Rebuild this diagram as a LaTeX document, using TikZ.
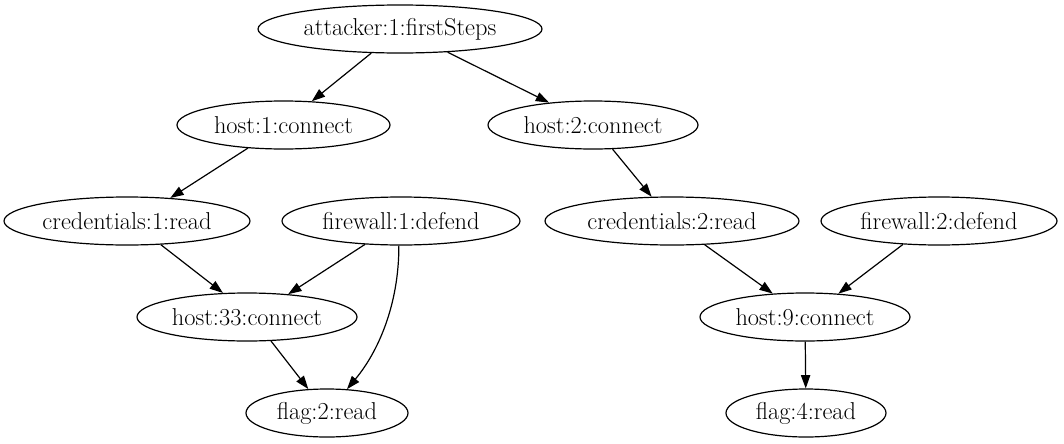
\documentclass[tikz,border=0pt]{standalone}
\usetikzlibrary{arrows.meta,shapes.geometric}
\begin{document}
\begin{tikzpicture}[x=0.75pt,y=-0.75pt,
  gnode/.style={draw, ellipse, line width=0.9pt, inner sep=0pt,
    minimum height=36pt, font=\fontsize{18.3}{21}\selectfont},
  edge/.style={line width=0.9pt, -{Triangle[length=10pt,width=7pt]}}]
\useasboundingbox (0,0) rectangle (1064,443);
% nodes (minimum width = 2 * horizontal radius)
\node[gnode, minimum width=213pt] (att) at (400,29) {attacker:1:firstSteps};
\node[gnode, minimum width=159.75pt] (h1) at (283.5,125) {host:1:connect};
\node[gnode, minimum width=157.5pt] (h2) at (593,125) {host:2:connect};
\node[gnode, minimum width=184.5pt] (c1) at (127,221) {credentials:1:read};
\node[gnode, minimum width=178.5pt] (fw1) at (401,221) {firewall:1:defend};
\node[gnode, minimum width=190.5pt] (c2) at (672,221) {credentials:2:read};
\node[gnode, minimum width=177pt] (fw2) at (939,221) {firewall:2:defend};
\node[gnode, minimum width=165pt] (h33) at (247,317) {host:33:connect};
\node[gnode, minimum width=157.5pt] (h9) at (805,317) {host:9:connect};
\node[gnode, minimum width=121.5pt] (f2) at (327,413) {flag:2:read};
\node[gnode, minimum width=120pt] (f4) at (806,413) {flag:4:read};
% edges
\draw[edge] (att.-140) -- (h1.40);
\draw[edge] (att.-26.9) -- (h2.153);
\draw[edge] (h1.-147.2) -- (c1.28.7);
\draw[edge] (h2.-51.6) -- (c2.130.6);
\draw[edge] (c1.-35) -- (h33.135.4);
\draw[edge] (fw1.-147.5) -- (h33.29.4);
\draw[edge] (fw1.-95) .. controls (399,305) and (378,352) .. (f2.50);
\draw[edge] (h33.-45.6) -- (f2.128.7);
\draw[edge] (c2.-36.6) -- (h9.144.2);
\draw[edge] (fw2.-147.6) -- (h9.35.8);
\draw[edge] (h9) -- (f4);
\end{tikzpicture}
\end{document}
